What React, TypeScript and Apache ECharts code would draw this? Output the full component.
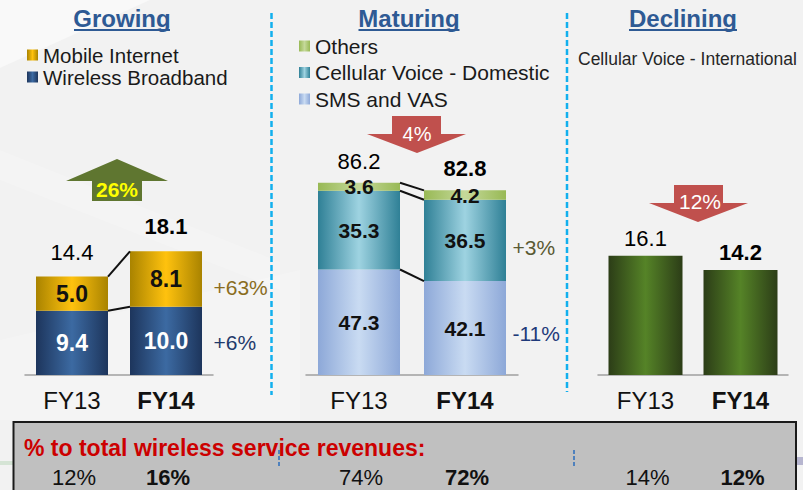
import React, { useEffect, useRef } from 'react';
import * as echarts from 'echarts';

const categories = ['FY13', 'FY14'];
// Growing
const mobileInternet = [5.0, 8.1];
const wirelessBroadband = [9.4, 10.0];
const growingTotals = [14.4, 18.1];
const growingChange = ['+63%', '+6%'];
// Maturing
const others = [3.6, 4.2];
const voiceDomestic = [35.3, 36.5];
const smsVas = [47.3, 42.1];
const maturingTotals = [86.2, 82.8];
const maturingChange = ['+3%', '-11%'];
// Declining
const voiceInternational = [16.1, 14.2];
// Arrows and shares
const arrowLabels = ['26%', '4%', '12%'];
const shareOfRevenue = [
  ['12%', '16%'],
  ['74%', '72%'],
  ['14%', '12%'],
];
const panelTitles = ['Growing', 'Maturing', 'Declining'];

const FONT = '"Liberation Sans", Arial, Helvetica, sans-serif';

export default function App() {
  const ref = useRef<HTMLDivElement>(null);

  useEffect(() => {
    const chart = echarts.init(ref.current!, null, { renderer: 'svg' });
    const grad = (edge: string, center: string) =>
      new echarts.graphic.LinearGradient(0, 0, 1, 0, [
        { offset: 0, color: edge },
        { offset: 0.5, color: center },
        { offset: 1, color: edge },
      ]);

    const catLabel = (size: number) => ({
      margin: 13,
      formatter: (v: string, i: number) => (i === 1 ? `{b|${v}}` : `{n|${v}}`),
      rich: {
        n: { fontSize: size, fontFamily: FONT, color: '#111', fontWeight: 'normal' },
        b: { fontSize: size, fontFamily: FONT, color: '#111', fontWeight: 'bold' },
      },
    });

    const xAxisBase = (gi: number) => ({
      type: 'category',
      gridIndex: gi,
      data: categories,
      axisTick: { show: false },
      axisLine: { lineStyle: { color: '#A0A0A0', width: 1.5 } },
      axisLabel: catLabel(24),
    });

    const insideLabel = (color: string, size: number) => ({
      show: true,
      position: 'inside',
      color,
      fontSize: size,
      fontWeight: 'bold',
      fontFamily: FONT,
    });

    const totalSeries = (gi: number, data: number[], dist: number) => ({
      type: 'scatter',
      xAxisIndex: gi,
      yAxisIndex: gi,
      symbolSize: 1,
      silent: true,
      itemStyle: { color: 'rgba(0,0,0,0)', opacity: 1 },
      z: 5,
      data: data.map((v, i) => ({
        value: v,
        label: {
          show: true,
          position: 'top',
          distance: dist,
          formatter: v.toFixed(1),
          fontSize: 22,
          fontFamily: FONT,
          color: '#000',
          opacity: 1,
          fontWeight: i === 1 ? 'bold' : 'normal',
        },
      })),
    });

    const changeSeries = (gi: number, items: { y: number; text: string; color: string; dy: number }[]) => ({
      type: 'scatter',
      xAxisIndex: gi,
      yAxisIndex: gi,
      symbolSize: 1,
      silent: true,
      itemStyle: { color: 'rgba(0,0,0,0)', opacity: 1 },
      z: 5,
      data: items.map((it) => ({
        value: [1, it.y],
        label: {
          show: true,
          position: 'right',
          distance: 47,
          offset: [0, it.dy],
          formatter: it.text,
          fontSize: 21,
          fontFamily: FONT,
          color: it.color,
          opacity: 1,
        },
      })),
    });

    const option: any = {
      animation: false,
      backgroundColor: '#F2F2F2',
      textStyle: { fontFamily: FONT },
      legend: [
        {
          data: ['Mobile Internet', 'Wireless Broadband'],
          orient: 'vertical',
          left: 22,
          top: 39,
          itemWidth: 11,
          itemHeight: 11,
          itemGap: 0,
          icon: 'rect',
          selectedMode: false,
          textStyle: { fontSize: 20.5, lineHeight: 22, color: '#1a1a1a', fontFamily: FONT },
        },
        {
          data: ['Others', 'Cellular Voice - Domestic', 'SMS and VAS'],
          orient: 'vertical',
          left: 294,
          top: 28,
          itemWidth: 11,
          itemHeight: 11,
          itemGap: 0.5,
          icon: 'rect',
          selectedMode: false,
          textStyle: { fontSize: 21, lineHeight: 26, color: '#1a1a1a', fontFamily: FONT },
        },
      ],
      grid: [
        { left: 25, width: 188, top: 170, bottom: 115 },
        { left: 306, width: 212, top: 152, bottom: 115 },
        { left: 598, width: 190, top: 153, bottom: 115 },
      ],
      xAxis: [xAxisBase(0), xAxisBase(1), xAxisBase(2)],
      yAxis: [
        { type: 'value', gridIndex: 0, min: 0, max: 30, show: false },
        { type: 'value', gridIndex: 1, min: 0, max: 100, show: false },
        { type: 'value', gridIndex: 2, min: 0, max: 30, show: false },
      ],
      series: [
        {
          name: 'Wireless Broadband',
          type: 'bar',
          stack: 'g',
          xAxisIndex: 0,
          yAxisIndex: 0,
          barWidth: 72,
          data: wirelessBroadband,
          itemStyle: { color: grad('#1D355C', '#3C6AA2') },
          label: { ...insideLabel('#ffffff', 23), formatter: (p: any) => p.value.toFixed(1) },
        },
        {
          name: 'Mobile Internet',
          type: 'bar',
          stack: 'g',
          xAxisIndex: 0,
          yAxisIndex: 0,
          barWidth: 72,
          data: mobileInternet,
          itemStyle: { color: grad('#A98300', '#FFC20E') },
          label: { ...insideLabel('#111111', 23), formatter: (p: any) => p.value.toFixed(1) },
        },
        totalSeries(0, growingTotals, 13),
        changeSeries(0, [
          { y: wirelessBroadband[1] + mobileInternet[1] / 2, text: growingChange[0], color: '#8A6D1E', dy: 9 },
          { y: wirelessBroadband[1] / 2, text: growingChange[1], color: '#1F3A6B', dy: 2 },
        ]),
        {
          name: 'SMS and VAS',
          type: 'bar',
          stack: 'm',
          xAxisIndex: 1,
          yAxisIndex: 1,
          barWidth: 82,
          data: smsVas,
          itemStyle: { color: grad('#8DA8D8', '#C9DBF2') },
          label: { ...insideLabel('#111111', 21), formatter: (p: any) => p.value.toFixed(1) },
        },
        {
          name: 'Cellular Voice - Domestic',
          type: 'bar',
          stack: 'm',
          xAxisIndex: 1,
          yAxisIndex: 1,
          barWidth: 82,
          data: voiceDomestic,
          itemStyle: { color: grad('#2F8096', '#9ED3E1') },
          label: { ...insideLabel('#111111', 21), formatter: (p: any) => p.value.toFixed(1) },
        },
        {
          name: 'Others',
          type: 'bar',
          stack: 'm',
          xAxisIndex: 1,
          yAxisIndex: 1,
          barWidth: 82,
          data: others,
          itemStyle: { color: grad('#98B955', '#C5D99A') },
          label: { ...insideLabel('#111111', 21), formatter: (p: any) => p.value.toFixed(1) },
        },
        totalSeries(1, maturingTotals, 10),
        changeSeries(1, [
          { y: smsVas[1] + voiceDomestic[1] / 2, text: maturingChange[0], color: '#5A5A33', dy: 7 },
          { y: smsVas[1] / 2, text: maturingChange[1], color: '#1F3A7A', dy: 5 },
        ]),
        {
          name: 'Cellular Voice - International',
          type: 'bar',
          xAxisIndex: 2,
          yAxisIndex: 2,
          barWidth: 74,
          data: voiceInternational,
          itemStyle: { color: grad('#2C3D17', '#558327') },
        },
        totalSeries(2, voiceInternational, 6),
      ],
    };

    chart.setOption(option);

    const px = (g: number, i: number, v: number) =>
      chart.convertToPixel({ xAxisIndex: g, yAxisIndex: g }, [i, v]) as number[];

    const connectors: any[] = [];
    const addConn = (g: number, half: number, a: number, b: number) => {
      const p1 = px(g, 0, a);
      const p2 = px(g, 1, b);
      connectors.push({
        type: 'line',
        z: 6,
        shape: { x1: p1[0] + half, y1: p1[1], x2: p2[0] - half, y2: p2[1] },
        style: { stroke: '#111', lineWidth: 2 },
      });
    };
    addConn(0, 36, growingTotals[0], growingTotals[1]);
    addConn(0, 36, wirelessBroadband[0], wirelessBroadband[1]);
    addConn(1, 41, maturingTotals[0], maturingTotals[1]);
    addConn(1, 41, smsVas[0] + voiceDomestic[0], smsVas[1] + voiceDomestic[1]);
    addConn(1, 41, smsVas[0], smsVas[1]);

    const shareTexts: any[] = [];
    shareOfRevenue.forEach((pair, g) => {
      pair.forEach((t, i) => {
        const p = px(g, i, 0);
        shareTexts.push({
          type: 'text',
          z: 12,
          x: p[0] + 2,
          y: 477,
          style: {
            text: t,
            fontSize: 22,
            fontFamily: FONT,
            fontWeight: i === 1 ? 'bold' : 'normal',
            fill: '#111',
            align: 'center',
            verticalAlign: 'middle',
          },
        });
      });
    });

    const titleCenters = [122, 409, 683];
    const titleWidths = [96, 101, 108];
    const titles: any[] = [];
    panelTitles.forEach((t, i) => {
      titles.push({
        type: 'text',
        z: 8,
        x: titleCenters[i],
        y: 18,
        style: {
          text: t,
          fontSize: 24,
          fontWeight: 'bold',
          fontFamily: FONT,
          fill: '#2E5A94',
          align: 'center',
          verticalAlign: 'middle',
        },
      });
      titles.push({
        type: 'line',
        z: 8,
        shape: {
          x1: titleCenters[i] - titleWidths[i] / 2,
          y1: 30,
          x2: titleCenters[i] + titleWidths[i] / 2,
          y2: 30,
        },
        style: { stroke: '#2E5A94', lineWidth: 2 },
      });
    });

    const arrowText = (x: number, y: number, text: string, color: string, bold: boolean, size: number) => ({
      type: 'text',
      z: 9,
      x,
      y,
      style: {
        text,
        fontSize: size,
        fontWeight: bold ? 'bold' : 'normal',
        fontFamily: FONT,
        fill: color,
        align: 'center',
        verticalAlign: 'middle',
      },
    });

    const graphic: any[] = [
      // background swooshes
      {
        type: 'polygon',
        z: 0,
        silent: true,
        shape: { points: [[0, 0], [150, 0], [0, 68]] },
        style: { fill: 'rgba(255,255,255,0.5)' },
      },
      {
        type: 'polygon',
        z: 0,
        silent: true,
        shape: { points: [[0, 150], [280, 262], [280, 290], [0, 180]] },
        style: { fill: 'rgba(255,255,255,0.18)' },
      },
      {
        type: 'polygon',
        z: 0,
        silent: true,
        shape: { points: [[0, 340], [300, 270], [300, 420], [0, 420]] },
        style: { fill: 'rgba(255,255,255,0.2)' },
      },
      // separators
      {
        type: 'line',
        z: 1,
        shape: { x1: 271.5, y1: 13, x2: 271.5, y2: 395 },
        style: { stroke: '#12B0EE', lineWidth: 2.5, lineDash: [6, 3] },
      },
      {
        type: 'line',
        z: 1,
        shape: { x1: 567, y1: 13, x2: 567, y2: 392 },
        style: { stroke: '#12B0EE', lineWidth: 2.5, lineDash: [6, 3] },
      },
      ...titles,
      {
        type: 'text',
        z: 8,
        x: 578,
        y: 59,
        style: {
          text: 'Cellular Voice - International',
          fontSize: 17.5,
          fontFamily: FONT,
          fill: '#262626',
          align: 'left',
          verticalAlign: 'middle',
        },
      },
      // arrows
      {
        type: 'polygon',
        z: 8,
        shape: { points: [[117, 159], [168, 181], [142, 181], [142, 201], [92, 201], [92, 181], [66, 181]] },
        style: { fill: '#5F7630' },
      },
      arrowText(117, 189, arrowLabels[0], '#FFFF00', true, 21),
      {
        type: 'polygon',
        z: 8,
        shape: { points: [[392, 116], [441, 116], [441, 134], [466, 134], [417, 153], [367, 134], [392, 134]] },
        style: { fill: '#C0504D' },
      },
      arrowText(417, 134, arrowLabels[1], '#FFFFFF', false, 20),
      {
        type: 'polygon',
        z: 8,
        shape: { points: [[674, 185], [723, 185], [723, 203], [748, 203], [698, 222], [649, 203], [674, 203]] },
        style: { fill: '#C0504D' },
      },
      arrowText(700, 201, arrowLabels[2], '#FFFFFF', false, 21),
      ...connectors,
      // bottom decorations outside the box
      {
        type: 'rect',
        z: 1,
        shape: { x: 0, y: 461, width: 14, height: 4 },
        style: { fill: '#D5E4D5' },
      },
      {
        type: 'rect',
        z: 1,
        shape: { x: 796, y: 457, width: 7, height: 8 },
        style: { fill: '#B7B6D0' },
      },
      // bottom box
      {
        type: 'rect',
        z: 10,
        shape: { x: 13.5, y: 422, width: 782.5, height: 80 },
        style: { fill: '#C0C0C0', stroke: '#1a1a1a', lineWidth: 2 },
      },
      {
        type: 'text',
        z: 11,
        x: 24,
        y: 448,
        style: {
          text: '% to total wireless service revenues:',
          fontSize: 23,
          fontWeight: 'bold',
          fontFamily: FONT,
          fill: '#CC0000',
          align: 'left',
          verticalAlign: 'middle',
        },
      },
      {
        type: 'line',
        z: 11,
        shape: { x1: 279, y1: 450, x2: 279, y2: 468 },
        style: { stroke: '#4F81BD', lineWidth: 2, lineDash: [4, 2] },
      },
      {
        type: 'line',
        z: 11,
        shape: { x1: 574, y1: 450, x2: 574, y2: 468 },
        style: { stroke: '#4F81BD', lineWidth: 2, lineDash: [4, 2] },
      },
      ...shareTexts,
    ];

    chart.setOption({ graphic });

    return () => chart.dispose();
  }, []);

  return (
    <div
      ref={ref}
      style={{ position: 'fixed', left: 0, top: 0, width: 803, height: 490 }}
    />
  );
}
